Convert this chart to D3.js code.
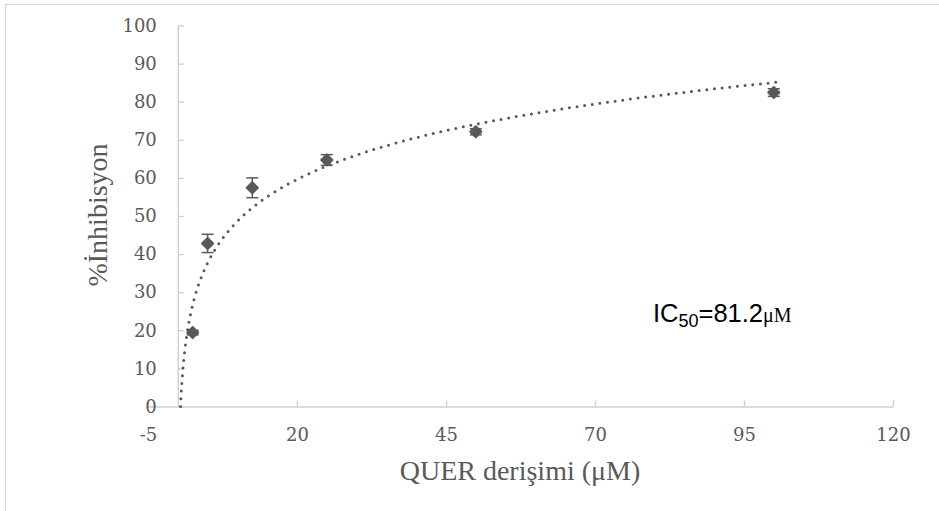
<!DOCTYPE html>
<html>
<head>
<meta charset="utf-8">
<script src="https://cdn.jsdelivr.net/npm/d3@7"></script>
<style>
  body { margin: 0; background: #fff; }
  svg { display: block; }
</style>
</head>
<body>
<svg id="chart" width="939" height="511"></svg>
<script>
// concentrations (µM) and % inhibition with error (SD)
const concentrations = [2.5, 5, 12.5, 25, 50, 100];
const inhibition = [19.4, 42.8, 57.4, 64.7, 72.1, 82.4];
const errors = [0.6, 2.4, 2.6, 1.4, 0.8, 1.0];

const xTicks = [-5, 20, 45, 70, 95, 120];
const yTicks = [0, 10, 20, 30, 40, 50, 60, 70, 80, 90, 100];
const trendEnd = 101.5;

const grey = "#595959";
const axisGrey = "#d0d0d0";

const svg = d3.select("#chart");

// outer chart border
svg.append("rect")
  .attr("x", 5.5).attr("y", 4.5)
  .attr("width", 960).attr("height", 530)
  .attr("fill", "none")
  .attr("stroke", "#d9d9d9")
  .attr("stroke-width", 1.3);

const x = d3.scaleLinear().domain([-5, 120]).range([148, 893]);
const y = d3.scaleLinear().domain([0, 100]).range([406.5, 25.5]);

// x axis
const xAxis = svg.append("g")
  .attr("transform", `translate(0,${y(0)})`)
  .call(d3.axisBottom(x).tickValues(xTicks).tickFormat(function (d) { return String(d); })
    .tickSizeInner(-6).tickSizeOuter(0).tickPadding(22));

// y axis crosses at x = 0
const yAxis = svg.append("g")
  .attr("transform", `translate(${x(0)},0)`)
  .call(d3.axisLeft(y).tickValues(yTicks).tickSizeInner(-6).tickSizeOuter(0).tickPadding(21));

[xAxis, yAxis].forEach(function (g) {
  g.selectAll("path, line").attr("stroke", axisGrey).attr("stroke-width", 1.4);
  g.selectAll("text")
    .attr("fill", grey)
    .style("font-family", "'DejaVu Serif', serif")
    .style("font-size", "18px");
});

// logarithmic trendline fitted to the data (least squares on ln x)
const lx = concentrations.map(Math.log);
const mx = d3.mean(lx), my = d3.mean(inhibition);
let sxy = 0, sxx = 0;
lx.forEach(function (v, i) {
  sxy += (v - mx) * (inhibition[i] - my);
  sxx += (v - mx) * (v - mx);
});
const a = sxy / sxx, b = my - a * mx;
const trendStart = Math.exp(-b / a);
const trendX = d3.range(0, 301).map(function (i) {
  return trendStart * Math.pow(trendEnd / trendStart, i / 300);
});

svg.append("path")
  .datum(trendX)
  .attr("fill", "none")
  .attr("stroke", grey)
  .attr("stroke-width", 3)
  .attr("stroke-linecap", "round")
  .attr("stroke-dasharray", "0,7.7")
  .attr("d", d3.line()
    .x(function (d) { return x(d); })
    .y(function (d) { return y(a * Math.log(d) + b); }));

// error bars
const pts = svg.append("g").selectAll("g")
  .data(concentrations)
  .join("g");

pts.append("line")
  .attr("x1", function (d) { return x(d); })
  .attr("x2", function (d) { return x(d); })
  .attr("y1", function (d, i) { return y(inhibition[i] - errors[i]); })
  .attr("y2", function (d, i) { return y(inhibition[i] + errors[i]); })
  .attr("stroke", grey).attr("stroke-width", 1.5);

[-1, 1].forEach(function (s) {
  pts.append("line")
    .attr("x1", function (d) { return x(d) - 6; })
    .attr("x2", function (d) { return x(d) + 6; })
    .attr("y1", function (d, i) { return y(inhibition[i] + s * errors[i]); })
    .attr("y2", function (d, i) { return y(inhibition[i] + s * errors[i]); })
    .attr("stroke", grey).attr("stroke-width", 1.5);
});

// markers (diamonds)
pts.append("path")
  .attr("transform", function (d, i) { return `translate(${x(d)},${y(inhibition[i])}) rotate(45)`; })
  .attr("d", d3.symbol().type(d3.symbolSquare).size(62))
  .attr("fill", grey)
  .attr("stroke", grey)
  .attr("stroke-linejoin", "round")
  .attr("stroke-width", 2);

// axis titles
svg.append("text")
  .attr("x", 520).attr("y", 480)
  .attr("text-anchor", "middle")
  .attr("fill", grey)
  .style("font-family", "'Liberation Serif', serif")
  .style("font-size", "28px")
  .text("QUER derişimi (μM)");

svg.append("text")
  .attr("transform", "translate(107,215) rotate(-90)")
  .attr("text-anchor", "middle")
  .attr("fill", grey)
  .style("font-family", "'Liberation Serif', serif")
  .style("font-size", "28px")
  .text("%İnhibisyon");

// IC50 annotation
const ic = svg.append("text")
  .attr("x", 653).attr("y", 322)
  .attr("fill", "#000")
  .style("font-family", "'Liberation Sans', sans-serif")
  .style("font-size", "25.5px");
ic.append("tspan").text("IC");
ic.append("tspan").attr("dy", 5).style("font-size", "18px").text("50");
ic.append("tspan").attr("dy", -5).text("=81.2");
ic.append("tspan")
  .style("font-family", "'Liberation Serif', serif")
  .style("font-size", "20px")
  .text("μM");
</script>
</body>
</html>
